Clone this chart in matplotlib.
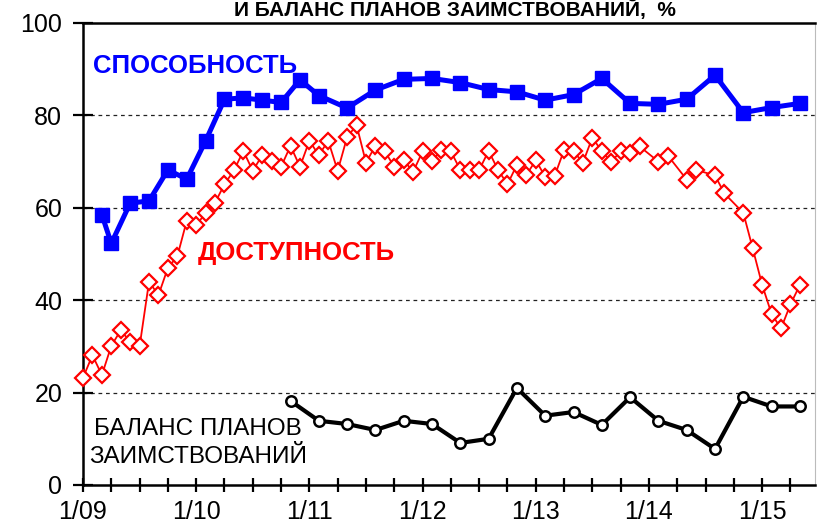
import matplotlib
matplotlib.use("Agg")
import matplotlib.pyplot as plt
from matplotlib import font_manager as fm

# ---------------- data ----------------
x_tick_labels = ["1/09", "1/10", "1/11", "1/12", "1/13", "1/14", "1/15"]

# months since Jan 2009
blue_months = [2, 3, 5, 7, 9, 11, 13, 15, 17, 19, 21, 23, 25, 28, 31, 34, 37, 40,
               43, 46, 49, 52, 55, 58, 61, 64, 67, 70, 73, 76]
blue_values = [58.5, 52.3, 61, 61.5, 68.2, 66.2, 74.5, 83.5, 83.8, 83.3, 82.8, 87.7,
               84.3, 81.6, 85.5, 87.8, 88, 87.1, 85.6, 85.1, 83.3, 84.5, 88, 82.6,
               82.4, 83.5, 88.7, 80.6, 81.7, 82.6]

red_months = list(range(0, 60)) + [61, 62, 64, 65, 67, 68, 70, 71, 72, 73, 74, 75, 76]
red_values = [23.2, 28.1, 23.8, 30.1, 33.5, 31, 30, 44, 41.1, 47, 49.5,
              57.2, 56.2, 58.9, 61.1, 65.1, 68.1, 72.3, 68, 71.4, 70.1,
              68.9, 73.4, 68.9, 74.5, 71.4, 74.5, 68, 75.3, 77.9, 69.8,
              73.4, 72.2, 68.9, 70.3, 67.8, 72.2, 70.1, 72.5, 72.2, 68.2,
              68.2, 68.2, 72.3, 68.2, 65.1, 69.3, 67.1, 70.3, 66.7, 66.9,
              72.5, 72.2, 69.8, 75.2, 72.2, 70, 72.2, 71.9, 73.3,
              70, 71.3, 66.1, 68.2, 67, 63.1, 58.9, 51.2, 43.3, 37, 33.9, 39.1, 43.3]

black_months = [22, 25, 28, 31, 34, 37, 40, 43, 46, 49, 52, 55, 58, 61, 64, 67, 70, 73, 76]
black_values = [18.2, 13.9, 13.2, 11.9, 13.9, 13.2, 9.1, 10, 21, 15, 15.8, 13,
                19, 13.9, 11.9, 7.8, 19.1, 17, 17]

label_blue = "СПОСОБНОСТЬ"
label_red = "ДОСТУПНОСТЬ"
label_black = "БАЛАНС ПЛАНОВ\nЗАИМСТВОВАНИЙ"
title_text = "И БАЛАНС ПЛАНОВ ЗАИМСТВОВАНИЙ,  %"

# ---------------- fonts ----------------
names = {f.name for f in fm.fontManager.ttflist}
has_narrow = "Liberation Sans Narrow" in names
base = ["Liberation Sans", "DejaVu Sans"]
narrow = (["Liberation Sans Narrow"] + base) if has_narrow else base
plt.rcParams["font.family"] = base

# ---------------- figure ----------------
fig = plt.figure(figsize=(8.17, 5.27), dpi=100)
ax = fig.add_axes([83 / 817, 1 - 485 / 527, (815 - 83) / 817, (485 - 23) / 527])

ax.set_xlim(0, 77.6)
ax.set_ylim(0, 100)

# grid lines
for yv in [20, 40, 60, 80]:
    ax.axhline(yv, color="#222222", lw=0.9, ls=(0, (3, 3)), zorder=1)

ax.plot(red_months, red_values, color="#ff0000", lw=1.3, marker="D", ms=8.4,
        mfc="white", mec="#ff0000", mew=1.6, zorder=3, clip_on=False)
ax.plot(black_months, black_values, color="black", lw=3.0, marker="o", ms=7.5,
        mfc="white", mec="black", mew=1.8, zorder=4)
ax.plot(blue_months, blue_values, color="#0000ff", lw=3.6, marker="s", ms=9.5,
        mfc="#0000ff", mec="#0000ff", zorder=5)

# ticks
ax.set_yticks([0, 20, 40, 60, 80, 100])
ax.set_yticklabels(["0", "20", "40", "60", "80", "100"])
ax.set_xticks(range(0, 76, 3))
ax.set_xticklabels([x_tick_labels[i // 4] if i % 4 == 0 else "" for i in range(26)])
ax.tick_params(axis="y", direction="inout", length=14, width=1.6, labelsize=18, pad=8)
ax.tick_params(axis="x", direction="inout", length=9.5, width=1.6, labelsize=18, pad=6)

for s in ["left", "bottom", "top"]:
    ax.spines[s].set_linewidth(1.8)
    ax.spines[s].set_color("black")
ax.spines["right"].set_linewidth(0.8)
ax.spines["right"].set_color("#bbbbbb")

# labels
ax.text(1.1, 90.6, label_blue, color="#0000ff", fontsize=18.5, fontweight="bold",
        ha="left", va="center")
ax.text(12.2, 50.2, label_red, color="#ff0000", fontsize=18.5, fontweight="bold",
        ha="left", va="center")
ax.text(12.2, 9.1, label_black, color="black", fontsize=20 if has_narrow else 17.5,
        family=narrow, ha="center", va="center", linespacing=1.4)

fig.text(455 / 817, 1 - 16 / 527, title_text, fontsize=15, fontweight="bold",
         family=narrow, ha="center", va="baseline")

fig.savefig("out.png", dpi=100)
